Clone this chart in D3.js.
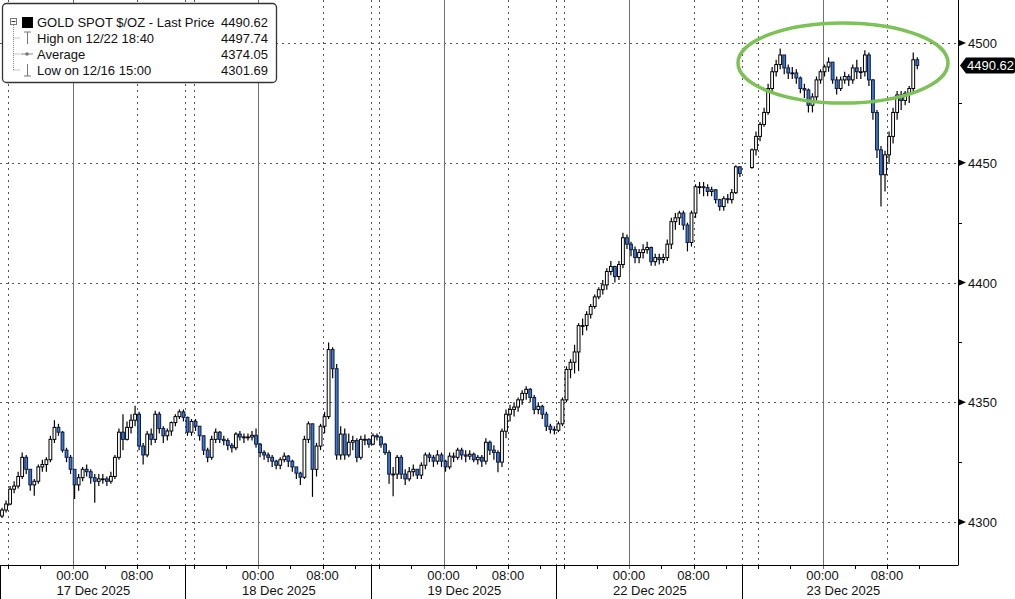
<!DOCTYPE html>
<html><head><meta charset="utf-8">
<script src="https://cdn.jsdelivr.net/npm/d3@7"></script>
<style>
html,body{margin:0;padding:0;background:#fff;overflow:hidden}
svg{display:block;font-family:"Liberation Sans",Arial,sans-serif}
</style>
</head><body>
<svg id="c" width="1015" height="599"></svg>
<script>
// 30-minute bars, each entry: [high, low, close]; open = previous close
// Session hours counted from 16 Dec 15:00 with the daily 14:00-15:00 break removed
const session1 = [ // 16 Dec 15:00 - 17 Dec 14:00
[4306,4301.69,4305],[4309,4304,4307.5],[4315,4307,4313.7],[4317,4312,4315],[4321,4314,4319],
[4329,4318,4327],[4328,4320,4322],[4322,4313,4315.5],[4318,4311,4317],[4324,4316,4323],
[4326,4321,4324],[4327,4321,4326],[4336,4325,4334.5],[4342.5,4333,4339.5],[4341,4336,4337.5],
[4338,4329,4330],[4331,4325,4327],[4328,4320,4322],[4322,4309.6,4315.5],[4320,4313,4318.5],
[4323,4317,4322],[4324,4319,4321],[4322,4316,4318.5],[4320,4308,4317],[4320,4315,4318],
[4320,4316,4318],[4319,4315,4317],[4321,4316,4319],[4328,4318,4327],[4339,4326,4337.5],
[4345,4330,4334.5],[4342,4334,4339.5],[4345,4337,4342.5],[4348.5,4340,4345],[4346,4330,4331.7],
[4333,4324,4328],[4338,4327,4336.7],[4339,4332,4334.5],[4346.5,4333,4345],[4346,4337,4339],
[4340,4333,4336],[4339,4334,4338],[4342,4336,4341.5],[4345,4340,4344],[4347,4343,4346],
[4347,4342,4343.7]];
const session2 = [ // 17 Dec 15:00 - 18 Dec 14:00
[4344,4336,4337.5],[4343,4336,4342],[4343,4338,4340],[4340,4334,4336],[4336,4328,4330],
[4331,4325,4327],[4336,4326,4334.5],[4339,4333,4337.5],[4338,4333,4334.5],[4336,4332,4334],
[4335,4330,4332],[4333,4329,4331],[4337.5,4330,4336.7],[4338,4334,4335.5],[4337,4333,4335.5],
[4337,4334,4335.5],[4338,4334,4336.2],[4339,4331,4332.5],[4333,4327,4329],[4330,4326,4328],
[4329,4325,4327],[4328,4323,4325.4],[4326,4322,4323.7],[4327,4322,4326],[4329,4325,4327.5],
[4328,4323,4325.4],[4326,4321,4323],[4323,4318,4320.4],[4321,4315.5,4318.7],[4336,4318,4334.5],
[4342,4333,4341],[4341,4310.5,4322],[4333,4319,4331.7],[4341,4330,4340],[4346,4337,4344],
[4375,4343,4372],[4373,4360,4364],[4366,4326,4328],[4340,4326,4336.7],[4339,4326,4328],
[4337,4327,4333.3],[4336,4330,4334],[4335,4325,4327],[4336,4326,4334.5],[4336.5,4332,4334.5],
[4335,4331,4332.5]];
const session3 = [ // 18 Dec 15:00 - 19 Dec 14:00
[4337,4332,4336],[4337,4334,4335.5],[4336,4331,4332.5],[4333,4328,4329],[4330,4316,4320],
[4323,4310.8,4320],[4328,4318,4327],[4328,4318,4320],[4322,4315.5,4318],[4323,4317,4321],
[4324,4319,4322],[4322,4318,4319.6],[4325,4318,4323.7],[4329,4322,4328],[4329,4325,4327],
[4328,4323,4325.4],[4330,4324,4328],[4329,4323,4325.4],[4326,4321,4323],[4329,4322,4327.5],
[4329,4325,4327],[4331,4326,4330],[4331,4326,4328],[4330,4325,4327.5],[4330,4326,4328.3],
[4329,4325,4326],[4328,4324,4327],[4328,4323,4325.4],[4335,4324,4333.3],[4334,4328,4330],
[4332,4326,4329],[4330,4320.8,4325],[4339,4323,4337.9],[4347,4335,4345],[4349,4342,4347],
[4350,4344,4348],[4352,4346,4351],[4355,4349,4353.7],[4356.7,4351,4355.4],[4356,4350,4352],
[4353,4345,4347],[4350,4345,4348.3],[4349,4343,4345],[4346,4338,4340],[4341,4337,4338.7],
[4340,4336.5,4338.3]];
const session4 = [ // 21 Dec 15:00 - 22 Dec 14:00
[4342,4337.5,4341],[4352,4340,4351],[4365,4350,4363.7],[4368,4360,4366.7],[4374,4362,4371],
[4383,4363,4382],[4385,4378,4382],[4388,4380,4386.7],[4391,4385,4390],[4395,4389,4394],
[4398,4393,4397],[4401,4395,4399],[4406,4397,4404.6],[4409,4403,4406.7],[4407,4400,4402.5],
[4409,4401,4407.5],[4420.8,4406,4418.7],[4420,4414,4416],[4417,4411,4413.7],[4415,4408,4410.4],
[4414,4408,4412.5],[4416,4410,4413.7],[4417,4412,4414.6],[4415,4407,4408.7],[4412,4407,4410.4],
[4412,4407.5,4409.6],[4412,4408,4410.4],[4418,4409,4416],[4427,4414,4425.4],[4429,4422,4427],
[4430,4424,4429],[4430,4422,4424],[4425,4413,4416.7],[4430,4415,4429],[4441,4427,4440],
[4442,4437,4440],[4442,4436,4439.6],[4441,4436,4438],[4440,4436,4438.7],[4439,4433,4434.6],
[4435,4430,4431.7],[4436,4430,4435],[4437,4433,4434.6],[4439,4433,4437.5],[4449,4437,4448.3],
[4448.5,4444,4445.5]];
const session5 = [ // 22 Dec 15:00 - 23 Dec
[4456,4447.5,4455.4],[4463,4453,4461],[4467,4459,4466],[4473,4465,4471],[4483,4470,4481],
[4490,4479,4488],[4493,4486,4491],[4497.74,4489,4495],[4495,4487,4489.6],[4491,4485,4487.5],
[4490,4485,4487.5],[4489,4483,4485.4],[4486,4479,4481],[4483,4477,4480.4],[4481,4471,4474],
[4479,4471,4477.5],[4486,4476,4484.6],[4489,4483,4488],[4491,4486,4490],[4494,4488,4492],
[4492,4483,4484.6],[4486,4478.5,4481],[4486,4480,4484.6],[4488,4483,4486],[4487,4482,4484.6],
[4491,4483,4489.6],[4493,4485,4488],[4490,4485,4488],[4497,4486,4495],[4496,4482,4484.6],
[4485,4468,4471],[4472,4452,4455.4],[4457,4431.7,4445],[4455,4438,4453.3],[4463,4450,4461],
[4473,4458,4471],[4480,4468,4478.3],[4480,4472,4476],[4480,4474,4479],[4482,4475,4481],
[4496,4479,4493],[4494,4489,4490.62]];
const sessions = [session1, session2, session3, session4, session5];
const sessionFirstHour = [0, 23, 46, 69, 93];     // hour of each session's first bar
const sessionFirstOpen = [4302.5, 4343.7, 4332.5, 4338.3, 4448];

// axis / tick data
const yTicks = [4300, 4350, 4400, 4450, 4500];
const yMinorTicks = [4325, 4375, 4425, 4475];
const dayTickHours = [9, 32, 55, 78, 102];
const dayLabels = ["17 Dec 2025", "18 Dec 2025", "19 Dec 2025", "22 Dec 2025", "23 Dec 2025"];
const eightTickHours = [17, 40, 63, 86, 110];
const minorTickHours = [1,5,13,21, 24,28,36,44, 47,51,59,67, 70,74,82,90, 94,98,106,114];
const sessionBreakHours = [23, 46, 69, 92];
const sixteenHours = [1, 24, 47, 70, 94];
const lastPrice = 4490.62;
const legendRows = [
  ["GOLD SPOT $/OZ - Last Price", "4490.62"],
  ["High on 12/22 18:40", "4497.74"],
  ["Average", "4374.05"],
  ["Low on 12/16 15:00", "4301.69"]
];

const svg = d3.select("#c");
const plotRight = 958, axisY = 565;
const x = d3.scaleLinear().domain([0, 118.8]).range([0, plotRight]);
const y = d3.scaleLinear().domain([4300, 4500]).range([522, 43]);

// grid
const g = svg.append("g");
g.selectAll(".hg").data(yTicks).enter().append("line")
  .attr("x1", 0).attr("x2", plotRight).attr("y1", d => Math.round(y(d)) + 0.5).attr("y2", d => Math.round(y(d)) + 0.5)
  .attr("stroke", "#555").attr("stroke-dasharray", "2,4").attr("stroke-width", 1);
const dotted = [].concat(eightTickHours, sessionBreakHours, sixteenHours);
g.selectAll(".vg").data(dotted).enter().append("line")
  .attr("x1", d => Math.round(x(d)) + 0.5).attr("x2", d => Math.round(x(d)) + 0.5)
  .attr("y1", 0).attr("y2", axisY)
  .attr("stroke", "#555").attr("stroke-dasharray", "2,4").attr("stroke-width", 1);
g.selectAll(".vs").data(dayTickHours).enter().append("line")
  .attr("x1", d => Math.round(x(d)) + 0.5).attr("x2", d => Math.round(x(d)) + 0.5)
  .attr("y1", 0).attr("y2", axisY + 4)
  .attr("stroke", "#707070").attr("stroke-width", 1);

// candles
const bars = [];
sessions.forEach((s, k) => {
  s.forEach((d, i) => {
    const open = i === 0 ? sessionFirstOpen[k] : s[i - 1][2];
    bars.push({t: sessionFirstHour[k] + 0.5 * i + 0.25, o: open, h: d[0], l: d[1], c: d[2]});
  });
});
const bw = 2.8;
const cg = svg.append("g");
cg.selectAll(".wick").data(bars).enter().append("line")
  .attr("x1", d => x(d.t)).attr("x2", d => x(d.t))
  .attr("y1", d => y(Math.max(d.h, d.o, d.c))).attr("y2", d => y(Math.min(d.l, d.o, d.c)))
  .attr("stroke", "#000").attr("stroke-width", 1.2);
cg.selectAll(".body").data(bars).enter().append("rect")
  .attr("x", d => x(d.t) - bw / 2)
  .attr("y", d => y(Math.max(d.o, d.c)))
  .attr("width", bw)
  .attr("height", d => Math.max(0.8, Math.abs(y(d.o) - y(d.c))))
  .attr("fill", d => d.c >= d.o ? "#ffffff" : "#3a7ad4")
  .attr("stroke", d => d.c >= d.o ? "#000" : "#0f1a40")
  .attr("stroke-width", 1);

// green ellipse annotation
svg.append("ellipse").attr("cx", 843).attr("cy", 63).attr("rx", 105).attr("ry", 40)
  .attr("fill", "none").attr("stroke", "#7cc257").attr("stroke-width", 3.5);

// axes lines
svg.append("line").attr("x1", 0).attr("x2", plotRight + 0.5).attr("y1", axisY + 0.5).attr("y2", axisY + 0.5)
  .attr("stroke", "#000").attr("stroke-width", 1);
svg.append("line").attr("x1", plotRight + 0.5).attr("x2", plotRight + 0.5).attr("y1", 0).attr("y2", axisY)
  .attr("stroke", "#000").attr("stroke-width", 1);
svg.append("line").attr("x1", 0.5).attr("x2", 0.5).attr("y1", axisY).attr("y2", 599).attr("stroke", "#000");
svg.selectAll(".sep").data(sessionBreakHours).enter().append("line")
  .attr("x1", d => Math.round(x(d)) + 0.5).attr("x2", d => Math.round(x(d)) + 0.5)
  .attr("y1", axisY).attr("y2", 599).attr("stroke", "#000").attr("stroke-width", 1);

// x ticks
svg.selectAll(".xt").data([].concat(minorTickHours, eightTickHours)).enter().append("line")
  .attr("x1", d => Math.round(x(d)) + 0.5).attr("x2", d => Math.round(x(d)) + 0.5)
  .attr("y1", axisY).attr("y2", axisY + 4).attr("stroke", "#000");
const xt = svg.append("g").attr("font-size", 13).attr("fill", "#111");
xt.selectAll(".l1").data([].concat(dayTickHours, eightTickHours)).enter().append("text")
  .attr("x", d => x(d)).attr("y", 580).attr("text-anchor", "middle")
  .text(d => dayTickHours.includes(d) ? "00:00" : "08:00");
xt.selectAll(".l2").data(dayTickHours).enter().append("text")
  .attr("x", d => x(d) - 16).attr("y", 595)
  .text((d, i) => dayLabels[i]);

// y axis
const ya = svg.append("g");
ya.selectAll(".tri").data(yTicks).enter().append("path")
  .attr("d", d => { const yy = y(d); return `M${plotRight},${yy - 3.5}L${plotRight + 8},${yy}L${plotRight},${yy + 3.5}Z`; })
  .attr("fill", "#000");
ya.selectAll(".yl").data(yTicks).enter().append("text")
  .attr("x", 968).attr("y", d => y(d) + 5).attr("font-size", 13).attr("fill", "#111")
  .text(d => d);
ya.selectAll(".ym").data(yMinorTicks).enter().append("line")
  .attr("x1", plotRight).attr("x2", plotRight + 4)
  .attr("y1", d => Math.round(y(d)) + 0.5).attr("y2", d => Math.round(y(d)) + 0.5).attr("stroke", "#000");

// last price marker
const ly = y(lastPrice);
svg.append("path")
  .attr("d", `M960,${ly}L966,${ly - 8}L1013,${ly - 8}Q1015,${ly - 8} 1015,${ly - 6}L1015,${ly + 6}Q1015,${ly + 8} 1013,${ly + 8}L966,${ly + 8}Z`)
  .attr("fill", "#000");
svg.append("text").attr("x", 967).attr("y", ly + 5).attr("font-size", 13).attr("fill", "#fff").text(lastPrice.toFixed(2));

// legend
const lg = svg.append("g");
lg.append("rect").attr("x", 2.5).attr("y", 3.5).attr("width", 274).attr("height", 79).attr("rx", 4)
  .attr("fill", "#fff").attr("stroke", "#333").attr("stroke-width", 1.3);
const rowY = [22, 38, 54, 70];
lg.selectAll(".lt").data(legendRows).enter().append("text")
  .attr("x", 37).attr("y", (d, i) => rowY[i] + 5).attr("font-size", 13).attr("fill", "#111").text(d => d[0]);
lg.selectAll(".lv").data(legendRows).enter().append("text")
  .attr("x", 268).attr("y", (d, i) => rowY[i] + 5).attr("font-size", 13).attr("fill", "#111")
  .attr("text-anchor", "end").text(d => d[1]);
// tree lines
lg.append("path").attr("d", `M13.5,${rowY[0] + 3}V${rowY[3]}M13.5,${rowY[1]}H20M13.5,${rowY[2]}H20M13.5,${rowY[3]}H20`)
  .attr("stroke", "#888").attr("stroke-dasharray", "1,1").attr("fill", "none");
lg.append("rect").attr("x", 10.5).attr("y", rowY[0] - 3.5).attr("width", 6).attr("height", 6).attr("fill", "#fff").attr("stroke", "#777");
lg.append("line").attr("x1", 11.5).attr("x2", 15.5).attr("y1", rowY[0] - 0.5).attr("y2", rowY[0] - 0.5).attr("stroke", "#333");
lg.append("rect").attr("x", 22).attr("y", rowY[0] - 5).attr("width", 11).attr("height", 11).attr("fill", "#000");
lg.append("path").attr("d", `M24,${rowY[1] - 6}H31M27.5,${rowY[1] - 6}V${rowY[1] + 6}`).attr("stroke", "#777").attr("fill", "none");
lg.append("path").attr("d", `M21,${rowY[2]}H33`).attr("stroke", "#888").attr("fill", "none");
lg.append("circle").attr("cx", 27).attr("cy", rowY[2]).attr("r", 1.8).attr("fill", "#777");
lg.append("path").attr("d", `M24,${rowY[3] + 6}H31M27.5,${rowY[3] + 6}V${rowY[3] - 6}`).attr("stroke", "#777").attr("fill", "none");
</script>
</body></html>
